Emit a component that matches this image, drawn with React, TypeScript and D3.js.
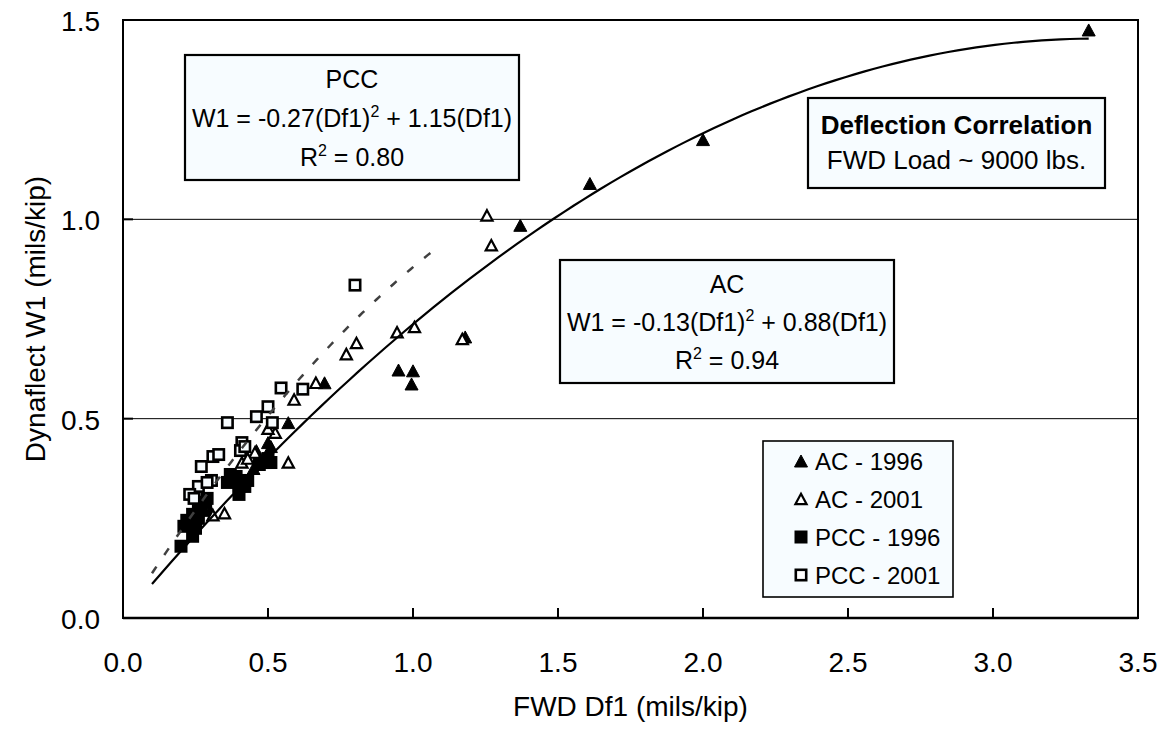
import React from "react";
import * as d3 from "d3";

// ---- Data ----
const AC_1996: [number, number][] = [
  [3.33, 1.475], [2.0, 1.2], [1.61, 1.09], [1.37, 0.985], [1.18, 0.705],
  [0.95, 0.622], [1.0, 0.62], [0.995, 0.587], [0.695, 0.59], [0.57, 0.49],
  [0.5, 0.44], [0.45, 0.375], [0.51, 0.43], [0.46, 0.42], [0.49, 0.4], [0.3, 0.27],
];
const AC_2001: [number, number][] = [
  [1.255, 1.01], [1.27, 0.935], [0.945, 0.717], [1.005, 0.73], [0.77, 0.662],
  [0.805, 0.69], [1.17, 0.7], [0.665, 0.59], [0.59, 0.548], [0.525, 0.465],
  [0.455, 0.415], [0.41, 0.39], [0.57, 0.39], [0.35, 0.263], [0.31, 0.258],
  [0.5, 0.475], [0.43, 0.4],
];
const PCC_1996: [number, number][] = [
  [0.2, 0.18], [0.21, 0.23], [0.24, 0.205], [0.25, 0.225], [0.22, 0.245],
  [0.24, 0.26], [0.26, 0.25], [0.27, 0.275], [0.285, 0.29], [0.29, 0.3],
  [0.26, 0.29], [0.36, 0.34], [0.37, 0.36], [0.39, 0.355], [0.4, 0.33],
  [0.4, 0.31], [0.42, 0.33], [0.43, 0.345], [0.49, 0.39], [0.5, 0.4],
  [0.51, 0.39], [0.47, 0.385],
];
const PCC_2001: [number, number][] = [
  [0.8, 0.835], [0.545, 0.577], [0.62, 0.574], [0.36, 0.49], [0.46, 0.505],
  [0.5, 0.53], [0.515, 0.49], [0.41, 0.44], [0.405, 0.42], [0.31, 0.405],
  [0.33, 0.41], [0.27, 0.38], [0.305, 0.345], [0.26, 0.33], [0.23, 0.31],
  [0.245, 0.3], [0.29, 0.34], [0.42, 0.43],
];
// trendline coefficients (a*x^2 + b*x) and x ranges
const AC_COEF = [-0.129, 0.866];
const AC_RANGE = [0.1, 3.33];
const PCC_COEF = [-0.27, 1.15];
const PCC_RANGE = [0.1, 1.08];

const X_TICKS = [0, 0.5, 1, 1.5, 2, 2.5, 3, 3.5];
const Y_TICKS = [0, 0.5, 1, 1.5];
const GRID_Y = [0.5, 1.0];
const LEGEND = ["AC - 1996", "AC - 2001", "PCC - 1996", "PCC - 2001"];

const FONT = "'Liberation Sans', Arial, sans-serif";
const BOXFILL = "#f7fcff";

export default function App() {
  const W = 1168, H = 734;
  const L = 123, R = 1138, T = 20, B = 618;
  const x = d3.scaleLinear().domain([0, 3.5]).range([L, R]);
  const y = d3.scaleLinear().domain([0, 1.5]).range([B, T]);

  const curve = (coef: number[], range: number[]) => {
    const xs = d3.range(0, 101).map((i) => range[0] + ((range[1] - range[0]) * i) / 100);
    const line = d3.line<number>().x((v) => x(v)).y((v) => y(coef[0] * v * v + coef[1] * v));
    return line(xs) || "";
  };

  const tri = (cx: number, cy: number, w: number, h: number) =>
    `M${cx},${cy - h}L${cx + w},${cy + h}L${cx - w},${cy + h}Z`;

  const FS = 25; // box text size
  const sup = (s: string) => (
    <tspan dy={-10} fontSize={16}>{s}</tspan>
  );

  return (
    <svg width={W} height={H} style={{ display: "block", position: "absolute", left: 0, top: 0 }} fontFamily={FONT}>
      <rect x={0} y={0} width={W} height={H} fill="#fff" />
      {/* gridlines */}
      {GRID_Y.map((g) => (
        <line key={g} x1={L} x2={R} y1={y(g)} y2={y(g)} stroke="#000" strokeWidth={1} />
      ))}
      {/* plot border */}
      <rect x={L} y={T} width={R - L} height={B - T} fill="none" stroke="#000" strokeWidth={2} />
      <line x1={L} x2={R} y1={B} y2={B} stroke="#000" strokeWidth={2.6} />
      {/* ticks */}
      {X_TICKS.map((t) => (
        <g key={t}>
          <line x1={x(t)} x2={x(t)} y1={B} y2={B - 10} stroke="#000" strokeWidth={2} />
          <text x={x(t)} y={B + 54} fontSize={28} textAnchor="middle">{t.toFixed(1)}</text>
        </g>
      ))}
      {Y_TICKS.map((t) => (
        <g key={t}>
          <line x1={L} x2={L + 10} y1={y(t)} y2={y(t)} stroke="#000" strokeWidth={2} />
          <text x={100} y={y(t) + 11} fontSize={28} textAnchor="end">{t.toFixed(1)}</text>
        </g>
      ))}
      <text x={(L + R) / 2} y={716} fontSize={28} textAnchor="middle">FWD Df1 (mils/kip)</text>
      <text transform={`translate(45,${(T + B) / 2}) rotate(-90)`} fontSize={28} textAnchor="middle">Dynaflect W1 (mils/kip)</text>

      {/* markers */}
      {AC_1996.map((d, i) => (
        <path key={"a" + i} d={tri(x(d[0]), y(d[1]), 6.5, 6)} fill="#000" stroke="#000" strokeWidth={1} />
      ))}
      {AC_2001.map((d, i) => (
        <path key={"b" + i} d={tri(x(d[0]), y(d[1]), 5.6, 5.2)} fill="#fff" stroke="#000" strokeWidth={2.2} strokeLinejoin="miter" />
      ))}
      {PCC_1996.map((d, i) => (
        <rect key={"c" + i} x={x(d[0]) - 6.5} y={y(d[1]) - 6.5} width={13} height={13} fill="#000" />
      ))}
      {PCC_2001.map((d, i) => (
        <rect key={"d" + i} x={x(d[0]) - 5.2} y={y(d[1]) - 5.2} width={10.4} height={10.4} fill={BOXFILL} stroke="#000" strokeWidth={2.6} />
      ))}

      {/* trendlines */}
      <path d={curve(AC_COEF, AC_RANGE)} fill="none" stroke="#000" strokeWidth={2.2} />
      <path d={curve(PCC_COEF, PCC_RANGE)} fill="none" stroke="#404040" strokeWidth={2.5} strokeDasharray="8,14" />

      {/* PCC box */}
      <rect x={185} y={55} width={334} height={125} fill={BOXFILL} stroke="#000" strokeWidth={2.2} />
      <text x={352} y={88} fontSize={FS} textAnchor="middle">PCC</text>
      <text x={352} y={127} fontSize={FS} textAnchor="middle">
        W1 = -0.27(Df1){sup("2")}<tspan dy={10}> + 1.15(Df1)</tspan>
      </text>
      <text x={352} y={166} fontSize={FS} textAnchor="middle">
        R{sup("2")}<tspan dy={10}> = 0.80</tspan>
      </text>

      {/* AC box */}
      <rect x={560} y={260} width={334} height={123} fill={BOXFILL} stroke="#000" strokeWidth={2.2} />
      <text x={727} y={293} fontSize={FS} textAnchor="middle">AC</text>
      <text x={727} y={331} fontSize={FS} textAnchor="middle">
        W1 = -0.13(Df1){sup("2")}<tspan dy={10}> + 0.88(Df1)</tspan>
      </text>
      <text x={727} y={369} fontSize={FS} textAnchor="middle">
        R{sup("2")}<tspan dy={10}> = 0.94</tspan>
      </text>

      {/* Title box */}
      <rect x={808} y={98} width={297} height={90} fill={BOXFILL} stroke="#000" strokeWidth={2.2} />
      <text x={956.5} y={134} fontSize={26} fontWeight="bold" textAnchor="middle">Deflection Correlation</text>
      <text x={956.5} y={169} fontSize={26} textAnchor="middle">FWD Load ~ 9000 lbs.</text>

      {/* Legend */}
      <rect x={763} y={441} width={190} height={156} fill={BOXFILL} stroke="#000" strokeWidth={1.6} />
      {LEGEND.map((name, i) => {
        const base = 470 + i * 38;
        const cy = base - 9;
        const mx = 801;
        return (
          <g key={name}>
            {i === 0 && <path d={tri(mx, cy, 6.5, 6)} fill="#000" stroke="#000" strokeWidth={1} />}
            {i === 1 && <path d={tri(mx, cy, 5.6, 5.2)} fill="#fff" stroke="#000" strokeWidth={2.2} />}
            {i === 2 && <rect x={mx - 6.5} y={cy - 6.5} width={13} height={13} fill="#000" />}
            {i === 3 && <rect x={mx - 5.2} y={cy - 5.2} width={10.4} height={10.4} fill="#fff" stroke="#000" strokeWidth={2.6} />}
            <text x={815} y={base} fontSize={24}>{name}</text>
          </g>
        );
      })}
    </svg>
  );
}
